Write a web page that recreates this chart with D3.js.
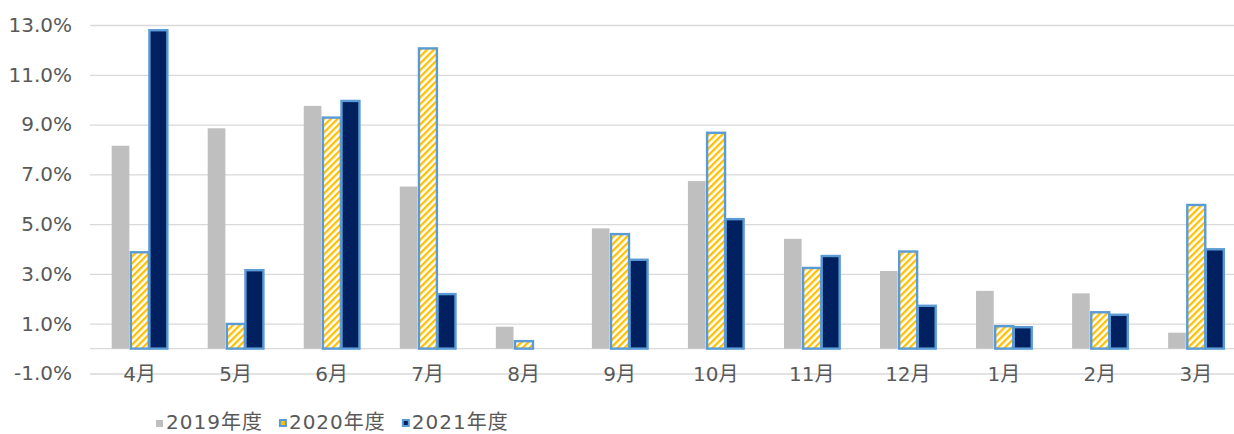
<!DOCTYPE html>
<html>
<head>
<meta charset="utf-8">
<script src="https://cdn.jsdelivr.net/npm/d3@7"></script>
<style>
  body { margin: 0; background: #fff; }
  svg { display: block; }
  text { font-family: "DejaVu Sans", "Noto Sans CJK JP", sans-serif; fill: #595959; }
</style>
</head>
<body>
<div id="chart"></div>
<script>
var months = ["4月", "5月", "6月", "7月", "8月", "9月", "10月", "11月", "12月", "1月", "2月", "3月"];
var seriesNames = ["2019年度", "2020年度", "2021年度"];
var fy2019 = [8.15, 8.85, 9.75, 6.51, 0.88, 4.83, 6.73, 4.41, 3.12, 2.32, 2.22, 0.64];
var fy2020 = [3.87, 0.99, 9.28, 12.06, 0.30, 4.60, 8.67, 3.24, 3.90, 0.90, 1.46, 5.77];
var fy2021 = [12.79, 3.15, 9.95, 2.19, null, 3.57, 5.20, 3.72, 1.72, 0.86, 1.36, 3.99];
var yTicks = [-1, 1, 3, 5, 7, 9, 11, 13];

var width = 1234, height = 434;
var left = 90, right = 1234;

var svg = d3.select("#chart").append("svg")
    .attr("width", width)
    .attr("height", height);

// stripe pattern for 2020
var defs = svg.append("defs");
var pat = defs.append("pattern")
    .attr("id", "stripe")
    .attr("patternUnits", "userSpaceOnUse")
    .attr("width", 4.8)
    .attr("height", 4.8)
    .attr("patternTransform", "rotate(45)");
pat.append("rect").attr("width", 4.8).attr("height", 4.8).attr("fill", "#fff");
pat.append("rect").attr("x", 0).attr("width", 2.3).attr("height", 4.8).attr("fill", "#FFC000");

var x = d3.scaleBand()
    .domain(months)
    .range([91.5, 1244])
    .paddingInner(0.42)
    .paddingOuter(0.21);

var x1 = d3.scaleBand()
    .domain([0, 1, 2])
    .range([0, x.bandwidth()]);

var y = d3.scaleLinear()
    .domain([-1, 13])
    .range([373.5, 25]);

// gridlines + y labels
var yAxis = d3.axisLeft(y)
    .tickValues(yTicks)
    .tickSize(-(right - left))
    .tickPadding(18)
    .tickFormat(function(d) { return (d < 0 ? "-" : "") + Math.abs(d).toFixed(1) + "%"; });

var gy = svg.append("g")
    .attr("transform", "translate(" + left + ",0)")
    .call(yAxis);
gy.select(".domain").remove();
gy.selectAll(".tick line").attr("stroke", "#D9D9D9").attr("stroke-width", 1.3);
gy.selectAll(".tick text")
    .style("font-size", "20px")
    .style("font-family", "'DejaVu Sans', sans-serif")
    .attr("fill", "#595959");

// zero line
svg.append("line")
    .attr("x1", left).attr("x2", right)
    .attr("y1", y(0)).attr("y2", y(0))
    .attr("stroke", "#D9D9D9")
    .attr("stroke-width", 1.3);

// x labels
var xAxis = d3.axisBottom(x).tickSize(0).tickPadding(18);
var gx = svg.append("g")
    .attr("transform", "translate(0," + y(0) + ")")
    .call(xAxis);
gx.select(".domain").remove();
gx.selectAll(".tick text")
    .style("font-size", "20px")
    .style("font-family", "'DejaVu Sans', 'Noto Sans CJK JP', sans-serif")
    .attr("fill", "#595959");

var series = [fy2019, fy2020, fy2021];
var fills = ["#BFBFBF", "url(#stripe)", "#002060"];
var strokes = ["none", "#5B9BD5", "#5B9BD5"];

series.forEach(function(values, s) {
    svg.append("g").selectAll("rect")
        .data(values.map(function(v, i) { return { m: months[i], v: v }; })
            .filter(function(d) { return d.v !== null; }))
        .enter().append("rect")
        .attr("x", function(d) { return x(d.m) + x1(s) + (s ? 0.6 : 0); })
        .attr("width", x1.bandwidth() - (s ? 0.6 : 0.9))
        .attr("y", function(d) { return y(Math.max(0, d.v)); })
        .attr("height", function(d) { return Math.abs(y(d.v) - y(0)); })
        .attr("fill", fills[s])
        .attr("stroke", strokes[s])
        .attr("stroke-width", 2.4);
});

// legend
var legend = svg.append("g").attr("transform", "translate(156,0)");
var lx = 0;
seriesNames.forEach(function(name, s) {
    if (s === 0) {
        legend.append("rect").attr("x", lx).attr("y", 420).attr("width", 7).attr("height", 7)
            .attr("fill", "#BFBFBF");
    } else {
        legend.append("rect").attr("x", lx + 1).attr("y", 420).attr("width", 6).attr("height", 6)
            .attr("fill", s === 1 ? "#FFC000" : "#002060")
            .attr("stroke", "#5B9BD5").attr("stroke-width", 2);
    }
    var t = legend.append("text")
        .attr("x", lx + 10)
        .attr("y", 429)
        .style("font-size", "20px")
        .style("letter-spacing", "1px")
        .text(name);
    lx += 10 + t.node().getComputedTextLength() + 16;
});
</script>
</body>
</html>
